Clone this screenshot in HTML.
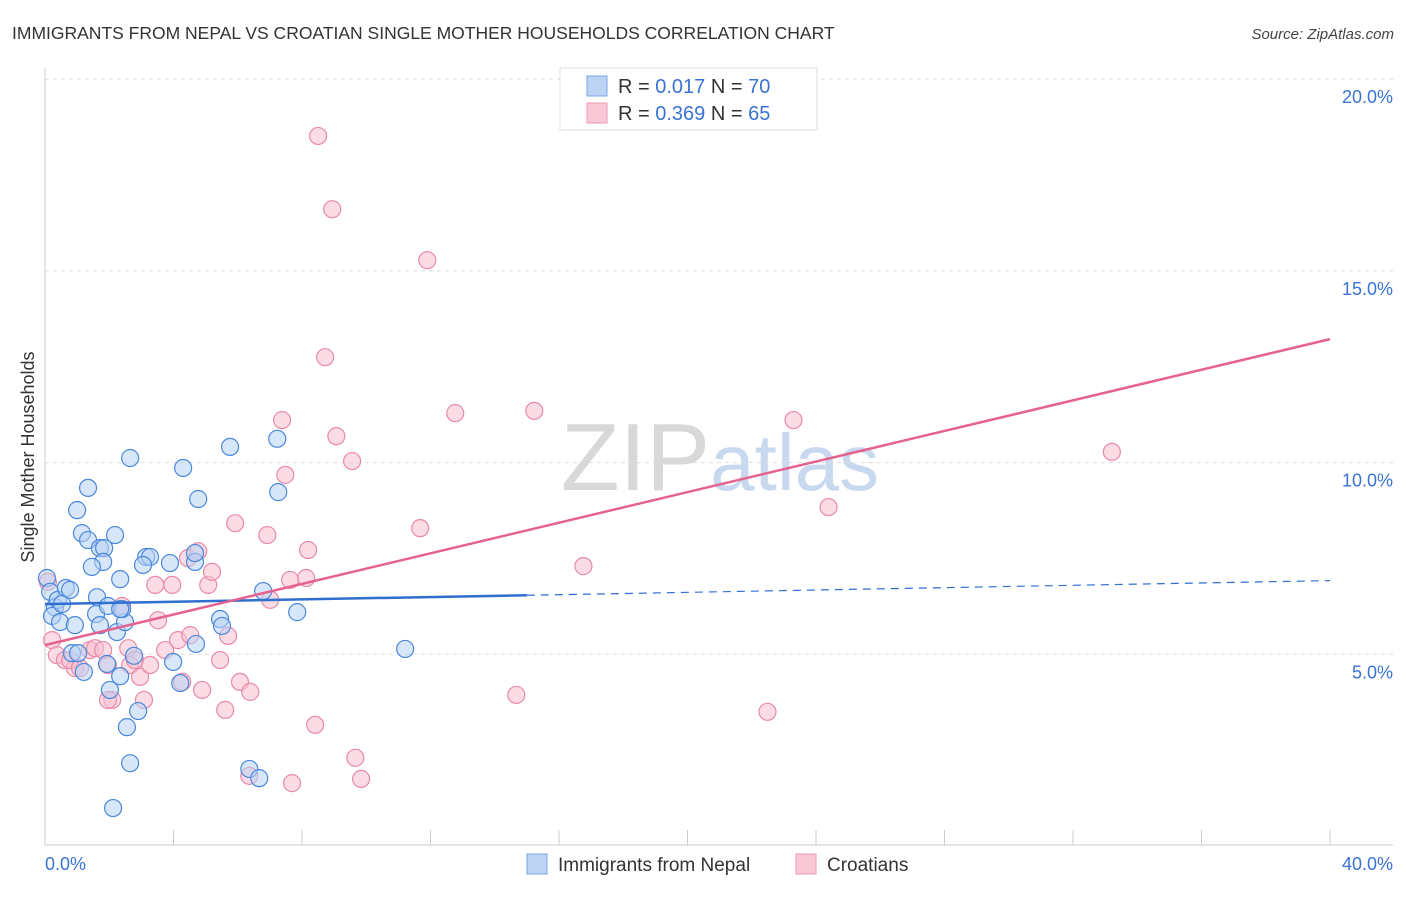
<!DOCTYPE html>
<html><head><meta charset="utf-8"><style>
body{margin:0;background:#fff;font-family:"Liberation Sans",sans-serif;}
svg text{font-family:"Liberation Sans",sans-serif;}
</style></head><body>
<svg id="chart" width="1406" height="892" viewBox="0 0 1406 892" xmlns="http://www.w3.org/2000/svg">
<text x="12" y="39" font-size="17.5" fill="#333">IMMIGRANTS FROM NEPAL VS CROATIAN SINGLE MOTHER HOUSEHOLDS CORRELATION CHART</text>
<text x="1394" y="39" font-size="15" fill="#444" font-style="italic" text-anchor="end">Source: ZipAtlas.com</text>
<text x="720" y="490" font-size="96" text-anchor="middle" font-family="Liberation Serif" fill="#ddd"><tspan fill="#d8d8d8">ZIP</tspan><tspan fill="#c8d8ee" font-family="Liberation Sans" font-size="80">atlas</tspan></text>
<g id="grid"></g>
<g id="axes"></g>
<g id="marks"></g>
<g id="trends"></g>
<text transform="translate(34,457) rotate(-90)" font-size="18" fill="#333" text-anchor="middle">Single Mother Households</text>
<g>
<rect x="560" y="68" width="257" height="62" fill="#fff" stroke="#ddd"/>
<rect x="587" y="76" width="20" height="20" fill="#bcd3f3" stroke="#7aa6e6"/>
<rect x="587" y="103" width="20" height="20" fill="#f8c8d7" stroke="#ee9ab4"/>
<text x="618" y="93" font-size="20" fill="#333">R = <tspan fill="#3a73d4">0.017</tspan>   N = <tspan fill="#3a73d4">70</tspan></text>
<text x="618" y="120" font-size="20" fill="#333">R = <tspan fill="#3a73d4">0.369</tspan>   N = <tspan fill="#3a73d4">65</tspan></text>
</g>
<g>
<rect x="527" y="854" width="20" height="20" fill="#bcd3f3" stroke="#7aa6e6"/>
<text x="558" y="871" font-size="19" fill="#333">Immigrants from Nepal</text>
<rect x="796" y="854" width="20" height="20" fill="#f8c8d7" stroke="#ee9ab4"/>
<text x="827" y="871" font-size="19" fill="#333">Croatians</text>
</g>
</svg>
<script>
const yTicks=[5,10,15,20];
const yTickLabels=["5.0%","10.0%","15.0%","20.0%"];
const xTickLabels=["0.0%","40.0%"];
const nepalX=[0.06,0.16,0.31,0.22,0.40,0.53,0.65,0.78,0.47,0.93,0.84,1.21,1.03,1.34,1.0,1.15,1.34,1.71,1.84,1.81,1.46,2.18,2.34,1.62,1.59,1.96,1.71,2.24,2.49,2.40,3.15,3.27,3.05,3.89,2.65,4.30,4.77,5.76,4.67,4.67,5.45,5.51,3.99,4.21,4.70,2.77,1.93,2.34,2.02,2.90,2.55,2.65,2.12,6.36,6.67,6.79,7.85,7.23,7.26,11.21,2.34];
const nepalY=[6.99,6.63,6.23,6.0,6.42,6.31,6.73,6.68,5.84,5.76,5.03,4.54,5.03,9.34,8.76,8.16,7.98,7.77,7.77,7.41,7.28,8.11,6.96,6.49,6.05,6.26,5.76,5.58,5.84,6.18,7.54,7.54,7.33,7.38,10.12,9.86,9.05,10.41,7.41,7.64,5.92,5.74,4.80,4.25,5.27,4.96,4.75,4.43,4.07,3.52,3.10,2.16,0.99,2.01,1.77,6.65,6.10,10.62,9.23,5.14,6.18];
const croatX=[0.09,0.22,0.37,0.62,0.93,0.78,1.09,1.40,1.56,1.81,1.96,2.09,2.40,2.59,2.65,2.80,2.96,3.08,3.27,3.43,3.52,3.74,3.96,4.14,4.27,4.45,4.52,4.77,4.89,5.08,5.20,5.61,5.45,5.70,5.92,6.07,6.39,6.36,6.92,7.01,7.38,7.48,7.63,8.13,8.19,8.41,7.69,8.50,8.72,8.94,9.07,9.56,9.66,9.84,11.68,11.90,12.77,14.67,15.23,16.76,22.49,23.30,24.39,33.21,1.96];
const croatY=[6.89,5.37,4.98,4.85,4.64,4.85,4.64,5.11,5.16,5.11,4.72,3.81,6.26,5.16,4.72,4.85,4.41,3.81,4.72,6.81,5.89,5.11,6.81,5.37,4.28,7.51,5.50,7.69,4.07,6.81,7.15,3.55,4.85,5.48,8.42,4.28,4.02,1.83,8.11,6.42,11.11,9.68,6.94,6.99,7.72,3.16,1.64,18.52,12.75,16.61,10.69,10.04,2.30,1.75,8.29,15.28,11.29,3.94,11.35,7.30,3.50,11.11,8.84,10.28,3.81];
const nepalTrend=[6.31,0.0153];
const croatTrend=[5.24,0.1995];
const nepalSolidEnd=15;

const NS="http://www.w3.org/2000/svg";
const xs=v=>45+v/40*1285;
const ys=v=>846-v*38.34;
function mk(tag,attrs,parent){const e=document.createElementNS(NS,tag);for(const k in attrs)e.setAttribute(k,attrs[k]);parent.appendChild(e);return e;}
const grid=document.getElementById('grid'),axes=document.getElementById('axes'),marks=document.getElementById('marks'),trends=document.getElementById('trends');
yTicks.forEach((t,i)=>{
 const l=mk('line',{x1:45,x2:1393,y1:ys(t),y2:ys(t),stroke:'#ddd','stroke-dasharray':'4,4'},grid);
 
 
 const tx=mk('text',{x:1393,y:ys(t)+24,'font-size':18,fill:'#3a73d4','text-anchor':'end'},axes);
 tx.textContent=yTickLabels[i];
 
 
});
const ax=mk('line',{x1:45,x2:1393,y1:845,y2:845,stroke:'#ccc'},axes);


const ay=mk('line',{x1:45,x2:45,y1:68,y2:845,stroke:'#ccc'},axes);


for(let i=0;i<=10;i++){
 const t=mk('line',{x1:xs(i*4),x2:xs(i*4),y1:830,y2:845,stroke:'#ccc'},axes);
 
 
}
[[0,'start',45],[40,'end',1393]].forEach((d,i)=>{
 const t=mk('text',{x:d[2],y:870,'font-size':18,fill:'#3a73d4','text-anchor':d[1]},axes);
 t.textContent=xTickLabels[i];
 
 
});
function dots(X,Y,fill,stroke,name){
 X.forEach((x,i)=>{
  const c=mk('circle',{cx:xs(x),cy:ys(Y[i]),r:8.5,fill:fill,'fill-opacity':0.55,stroke:stroke,'stroke-width':1.2},marks);
  
  
 });
}
dots(croatX,croatY,'#f8c0d0','#e98aa8','croatian-point');
dots(nepalX,nepalY,'#b8d2f4','#4a88dc','nepal-point');
const nf=x=>nepalTrend[0]+nepalTrend[1]*x, cf=x=>croatTrend[0]+croatTrend[1]*x;
const b1=mk('line',{x1:xs(0),y1:ys(nf(0)),x2:xs(nepalSolidEnd),y2:ys(nf(nepalSolidEnd)),stroke:'#2f6fd0','stroke-width':2.5},trends);


const b2=mk('line',{x1:xs(nepalSolidEnd),y1:ys(nf(nepalSolidEnd)),x2:xs(40),y2:ys(nf(40)),stroke:'#2f6fd0','stroke-width':1.2,'stroke-dasharray':'8,6'},trends);


const p1=mk('line',{x1:xs(0),y1:ys(cf(0)),x2:xs(40),y2:ys(cf(40)),stroke:'#e5628f','stroke-width':2.5},trends);


</script>
</body></html>
